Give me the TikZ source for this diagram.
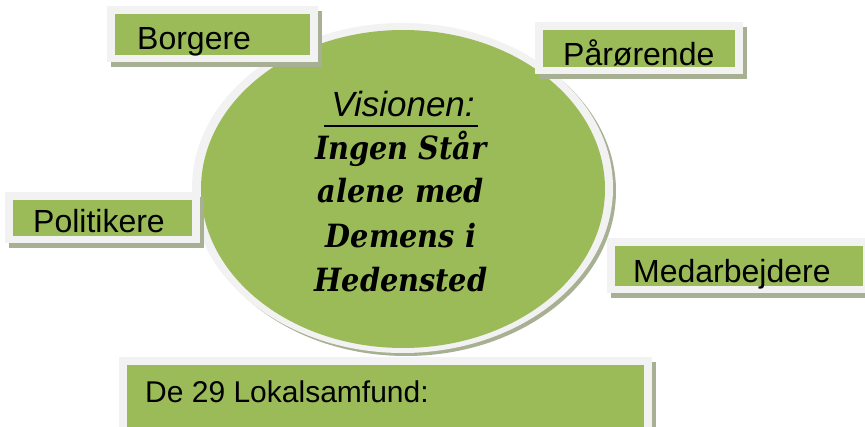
\documentclass[tikz,border=0pt]{standalone}
\usepackage{fontspec}
\setmainfont{Liberation Sans}
\newfontfamily\visfont{DejaVu Serif Condensed}
\definecolor{gfill}{HTML}{9BBB59}
\definecolor{gwhite}{HTML}{F2F2F2}
\definecolor{gshadow}{HTML}{A7B092}
\tikzset{
  gbox/.style={fill=gfill, inner sep=0pt, anchor=north west},
  boxlabel/.style={anchor=base west, inner sep=0pt, font=\fontsize{32}{36}\selectfont},
  visline/.style={anchor=base, inner sep=0pt, font=\visfont\bfseries\itshape\fontsize{32}{36}\selectfont},
  vishead/.style={anchor=base, inner sep=0pt, font=\itshape\fontsize{35}{40}\selectfont},
}
% name, x1, y1, x2, y2 (outer white frame)
\newcommand\greenbox[5]{%
  \fill[gshadow] (#2+4,#3+5) rectangle (#4+4,#5+5);
  \fill[gwhite] (#2,#3) rectangle (#4,#5);
  \node[gbox, minimum width={#4pt-#2pt-16pt}, minimum height={#5pt-#3pt-15pt}] (#1) at (#2+8,#3+8) {};
}
\begin{document}
\begin{tikzpicture}[x=1pt,y=-1pt]
\useasboundingbox (0,0) rectangle (865,427);
\clip (0,0) rectangle (865,427);
\fill[white] (0,0) rectangle (865,427);
% central ellipse
\fill[gshadow] (406,191) ellipse [x radius=210, y radius=165];
\fill[gwhite] (402.5,188) ellipse [x radius=210.5, y radius=165];
\fill[gfill] (403,189) ellipse [x radius=202, y radius=159];
\coordinate (vision) at (403,189);
\node[vishead] (v0) at (403,117) {Visionen:};
\draw[line width=2.5pt] (324,126) -- (478,126);
\node[visline] (v1) at (401,160) {Ingen Står};
\node[visline] (v2) at (401,203) {alene med};
\node[visline] (v3) at (401,248) {Demens i};
\node[visline] (v4) at (401,292) {Hedensted};
% boxes
\greenbox{borgere}{107}{6}{318}{62}
\node[boxlabel] (tborgere) at (137,50) {Borgere};
\greenbox{paar}{535}{22}{743}{74}
\node[boxlabel] (tpaar) at (563,66) {Pårørende};
\greenbox{polit}{5}{192}{200}{243}
\node[boxlabel] (tpolit) at (33,233) {Politikere};
\greenbox{medarb}{607}{238}{871}{293}
\node[boxlabel] (tmedarb) at (633,283) {Medarbejdere};
\greenbox{lokal}{119}{357}{652}{440}
\node[boxlabel, font=\fontsize{30}{36}\selectfont] (tlokal) at (145,403) {De 29 Lokalsamfund:};
\end{tikzpicture}
\end{document}
